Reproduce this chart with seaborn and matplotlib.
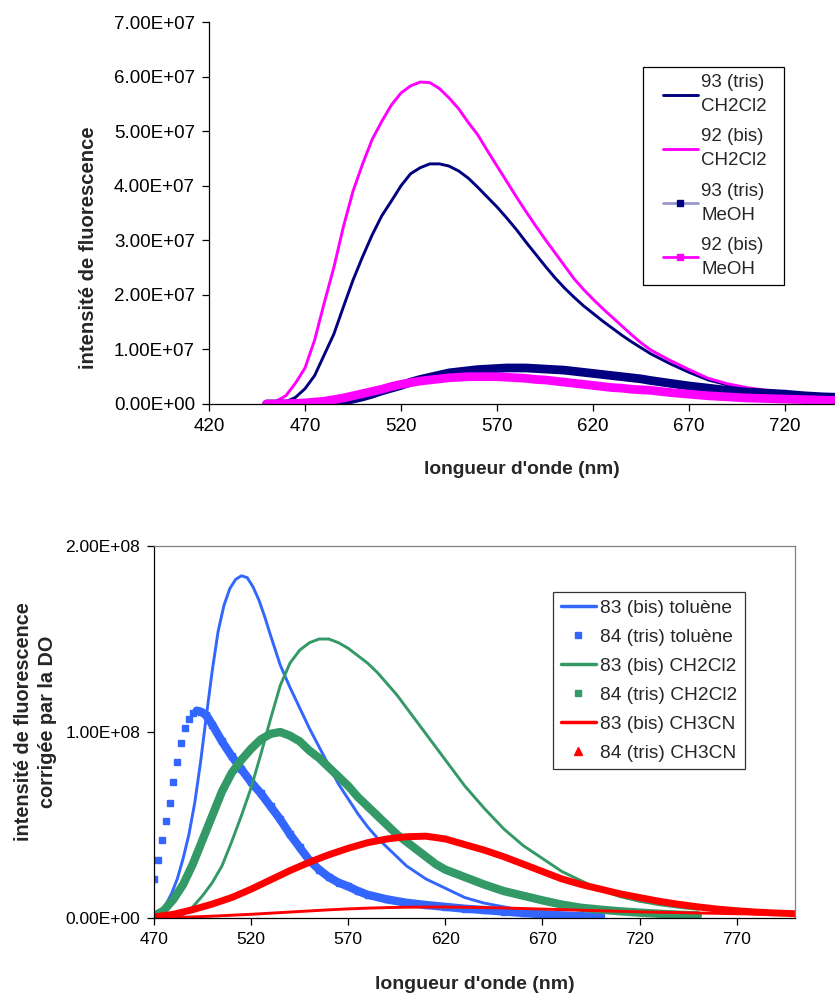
import numpy as np
import pandas as pd
import matplotlib
matplotlib.use("Agg")
import matplotlib.pyplot as plt
from matplotlib.lines import Line2D
from matplotlib.patches import Rectangle
from matplotlib.ticker import FuncFormatter
import seaborn as sns

# ── Data ────────────────────────────────────────────────────────
# top chart: wavelengths (nm) and intensities (units of 1e7)
wl_top = [450, 455, 460, 465, 470, 475, 480, 485, 490, 495, 500, 505, 510, 515,
          520, 525, 530, 535, 540, 545, 550, 555, 560, 565, 570, 575, 580, 585,
          590, 595, 600, 605, 610, 615, 620, 625, 630, 635, 640, 645, 650, 660,
          670, 680, 690, 700, 710, 720, 730, 740, 750]
tris93_ch2cl2 = [0.0, 0.01, 0.04, 0.12, 0.28, 0.52, 0.9, 1.28, 1.78, 2.27, 2.7, 3.1,
                 3.45, 3.72, 4.0, 4.22, 4.33, 4.4, 4.4, 4.36, 4.27, 4.14, 3.97, 3.79,
                 3.61, 3.41, 3.2, 2.97, 2.75, 2.53, 2.32, 2.13, 1.96, 1.8, 1.66, 1.52,
                 1.39, 1.26, 1.14, 1.03, 0.92, 0.74, 0.58, 0.44, 0.35, 0.28, 0.23, 0.19,
                 0.15, 0.12, 0.1]
bis92_ch2cl2 = [0.0, 0.05, 0.15, 0.38, 0.66, 1.17, 1.85, 2.5, 3.25, 3.9, 4.4, 4.85,
                5.18, 5.48, 5.7, 5.83, 5.9, 5.89, 5.78, 5.61, 5.41, 5.16, 4.93, 4.64,
                4.36, 4.08, 3.8, 3.53, 3.27, 3.02, 2.78, 2.54, 2.3, 2.1, 1.92, 1.75,
                1.59, 1.43, 1.27, 1.12, 0.99, 0.8, 0.63, 0.47, 0.37, 0.3, 0.25, 0.2,
                0.16, 0.12, 0.1]
tris93_meoh = [0.0, 0.0, 0.0, 0.0, 0.0, 0.0, 0.0, 0.02, 0.05, 0.09, 0.13, 0.18, 0.24,
               0.29, 0.34, 0.4, 0.45, 0.49, 0.53, 0.57, 0.59, 0.61, 0.63, 0.64, 0.65,
               0.66, 0.66, 0.66, 0.65, 0.64, 0.63, 0.62, 0.6, 0.58, 0.56, 0.54, 0.52,
               0.5, 0.48, 0.46, 0.43, 0.38, 0.33, 0.29, 0.25, 0.22, 0.2, 0.18, 0.15,
               0.13, 0.12]
bis92_meoh = [0.0, 0.0, 0.005, 0.01, 0.02, 0.035, 0.05, 0.08, 0.11, 0.15, 0.19, 0.23,
              0.27, 0.32, 0.36, 0.39, 0.42, 0.44, 0.46, 0.48, 0.49, 0.5, 0.5, 0.5,
              0.5, 0.49, 0.48, 0.47, 0.45, 0.44, 0.42, 0.4, 0.38, 0.36, 0.34, 0.32,
              0.3, 0.29, 0.27, 0.26, 0.25, 0.21, 0.18, 0.15, 0.13, 0.11, 0.1, 0.09,
              0.08, 0.07, 0.06]

# bottom chart: intensities in units of 1e8
wl_tol83 = [470, 473, 476, 479, 482, 485, 488, 491, 494, 497, 500, 503, 506, 509,
            512, 515, 518, 521, 524, 527, 530, 535, 540, 545, 550, 555, 560, 565,
            570, 575, 580, 585, 590, 595, 600, 610, 620, 630, 640, 650, 660, 670,
            680, 690, 700]
bis83_toluene = [0.0, 0.02, 0.07, 0.13, 0.21, 0.32, 0.45, 0.62, 0.84, 1.09, 1.33,
                 1.54, 1.68, 1.77, 1.82, 1.84, 1.83, 1.78, 1.71, 1.62, 1.52, 1.36,
                 1.24, 1.13, 1.02, 0.92, 0.82, 0.72, 0.64, 0.56, 0.49, 0.43, 0.38,
                 0.33, 0.28, 0.21, 0.16, 0.11, 0.08, 0.06, 0.04, 0.03, 0.02, 0.012,
                 0.008]
wl_tol84 = [470, 472, 474, 476, 478, 480, 482, 484, 486, 488, 490, 492, 494, 497,
            500, 505, 510, 515, 520, 525, 530, 535, 540, 545, 550, 555, 560, 565,
            570, 575, 580, 590, 600, 610, 620, 630, 640, 650, 660, 670, 680, 690, 700]
tris84_toluene = [0.21, 0.31, 0.42, 0.52, 0.62, 0.73, 0.84, 0.94, 1.02, 1.07, 1.1,
                  1.115, 1.11, 1.09, 1.04, 0.95, 0.87, 0.8, 0.73, 0.67, 0.6, 0.53,
                  0.45, 0.38, 0.31, 0.26, 0.22, 0.19, 0.17, 0.145, 0.125, 0.1, 0.082,
                  0.07, 0.06, 0.05, 0.043, 0.035, 0.027, 0.02, 0.014, 0.01, 0.007]
wl_dcm = [470, 480, 485, 490, 495, 500, 505, 510, 515, 520, 525, 530, 535, 540, 545,
          550, 555, 560, 565, 570, 575, 580, 585, 590, 595, 600, 605, 610, 615, 620,
          625, 630, 635, 640, 650, 660, 670, 680, 690, 700, 710, 720, 730, 740, 750]
bis83_ch2cl2 = [0.0, 0.005, 0.02, 0.06, 0.12, 0.19, 0.28, 0.41, 0.55, 0.7, 0.88,
                1.07, 1.25, 1.37, 1.44, 1.48, 1.5, 1.5, 1.48, 1.45, 1.41, 1.37, 1.32,
                1.26, 1.2, 1.13, 1.06, 0.99, 0.92, 0.85, 0.78, 0.71, 0.65, 0.59, 0.48,
                0.39, 0.32, 0.25, 0.2, 0.15, 0.115, 0.09, 0.072, 0.058, 0.047]
wl_dcm84 = [470, 475, 480, 485, 490, 495, 500, 505, 510, 515, 520, 525, 530, 535,
            540, 545, 550, 555, 560, 565, 570, 575, 580, 585, 590, 595, 600, 605,
            610, 615, 620, 625, 630, 635, 640, 650, 660, 670, 680, 690, 700, 710,
            720, 730, 740, 750]
tris84_ch2cl2 = [0.01, 0.04, 0.1, 0.18, 0.29, 0.42, 0.55, 0.68, 0.78, 0.85, 0.91,
                 0.96, 0.99, 1.0, 0.98, 0.95, 0.9, 0.86, 0.81, 0.76, 0.71, 0.65, 0.6,
                 0.55, 0.5, 0.45, 0.41, 0.37, 0.33, 0.29, 0.26, 0.24, 0.22, 0.2, 0.18,
                 0.145, 0.12, 0.095, 0.072, 0.055, 0.045, 0.036, 0.029, 0.023, 0.018,
                 0.014]
wl_acn = [470, 480, 490, 500, 510, 520, 530, 540, 550, 560, 570, 580, 590, 600, 610,
          620, 630, 640, 650, 660, 670, 680, 690, 700, 710, 720, 730, 740, 750, 760,
          770, 780, 790, 800]
bis83_ch3cn = [0.0, 0.003, 0.006, 0.01, 0.015, 0.02, 0.026, 0.032, 0.038, 0.044,
               0.049, 0.053, 0.056, 0.058, 0.059, 0.059, 0.058, 0.056, 0.054, 0.051,
               0.048, 0.045, 0.042, 0.039, 0.036, 0.033, 0.031, 0.029, 0.027, 0.025,
               0.023, 0.021, 0.02, 0.019]
tris84_ch3cn = [0.005, 0.02, 0.045, 0.075, 0.11, 0.155, 0.205, 0.255, 0.3, 0.34,
                0.375, 0.405, 0.425, 0.437, 0.44, 0.425, 0.395, 0.365, 0.33, 0.29,
                0.25, 0.21, 0.18, 0.155, 0.13, 0.11, 0.09, 0.074, 0.06, 0.048, 0.039,
                0.032, 0.027, 0.023]

top_labels = ["93 (tris)\nCH2Cl2", "92 (bis)\nCH2Cl2", "93 (tris)\nMeOH", "92 (bis)\nMeOH"]
bottom_labels = ["83 (bis) toluène", "84 (tris) toluène", "83 (bis) CH2Cl2",
                 "84 (tris) CH2Cl2", "83 (bis) CH3CN", "84 (tris) CH3CN"]

# ── Style ───────────────────────────────────────────────────────
sns.set_theme(style="white")
plt.rcParams["font.family"] = ["Liberation Sans", "DejaVu Sans"]

NAVY, PINK, LAVENDER = "#000080", "#FF00FF", "#9999CC"
BLUE, GREEN, RED = "#3366FF", "#339966", "#FF0000"

fmt = FuncFormatter(lambda v, p: f"{v:.2E}")

W, H = 835, 996
fig = plt.figure(figsize=(W / 100, H / 100), dpi=100)
ax1 = fig.add_axes([0.2503, 0.5944, 0.7497, 0.3835])
ax2 = fig.add_axes([0.1844, 0.0783, 0.7677, 0.3735])

# ── Top chart ───────────────────────────────────────────────────
wl = np.array(wl_top)
sns.lineplot(x=wl, y=np.array(tris93_ch2cl2) * 1e7, ax=ax1, color=NAVY, lw=2.1,
             sort=False, estimator=None)
sns.lineplot(x=wl, y=np.array(bis92_ch2cl2) * 1e7, ax=ax1, color=PINK, lw=2.1,
             sort=False, estimator=None)
sns.lineplot(x=wl, y=np.array(tris93_meoh) * 1e7, ax=ax1, color=NAVY, lw=6.3,
             sort=False, estimator=None)
sns.lineplot(x=wl, y=np.array(bis92_meoh) * 1e7, ax=ax1, color=PINK, lw=6.3,
             sort=False, estimator=None)

ax1.set_xlim(420, 746)
ax1.set_ylim(0, 7e7)
ax1.set_xticks(np.arange(420, 721, 50))
ax1.set_yticks(np.arange(0, 7.01e7, 1e7))
ax1.yaxis.set_major_formatter(fmt)
ax1.tick_params(direction="out", length=5, width=0.9, labelsize=13.5, colors="black",
                bottom=True, left=True, pad=5)
sns.despine(ax=ax1)
for s in ["left", "bottom"]:
    ax1.spines[s].set_color("black")
    ax1.spines[s].set_linewidth(0.9)
ax1.set_xlabel("longueur d'onde (nm)", fontsize=13.8, fontweight="bold")
ax1.set_ylabel("intensité de fluorescence", fontsize=14.6, fontweight="bold")
ax1.xaxis.set_label_coords(0.5, -0.148)
ax1.yaxis.set_label_coords(-0.177, 0.41)

top_handles = [
    Line2D([], [], color=NAVY, lw=2.1),
    Line2D([], [], color=PINK, lw=2.1),
    Line2D([], [], color=LAVENDER, lw=2, marker="s", ms=5, mfc=NAVY, mec=NAVY),
    Line2D([], [], color=PINK, lw=2, marker="s", ms=5, mfc=PINK, mec=PINK),
]
# legend box drawn separately so the padding can match the reference
fig.add_artist(Rectangle((643 / W, 1 - 285 / H), 141 / W, 218 / H,
                         transform=fig.transFigure, facecolor="white",
                         edgecolor="black", lw=0.9, zorder=3))
leg1 = fig.legend(top_handles, top_labels, loc="upper left",
                  bbox_to_anchor=(663 / W, 1 - 74 / H), bbox_transform=fig.transFigure,
                  fontsize=13.5, frameon=False, handlelength=1.85,
                  handletextpad=0.2, labelspacing=0.7, borderpad=0, borderaxespad=0)
leg1.set_zorder(4)
for t in leg1.get_texts():
    t.set_linespacing(1.55)

# ── Bottom chart ────────────────────────────────────────────────
sns.lineplot(x=wl_tol83, y=np.array(bis83_toluene) * 1e8, ax=ax2, color=BLUE, lw=2.1,
             sort=False, estimator=None)
tol84 = np.array(tris84_toluene) * 1e8
peak = int(np.argmax(tol84))
ax2.plot(wl_tol84, tol84, ls="none", marker="s", ms=4.6, color=BLUE, mec=BLUE)
sns.lineplot(x=wl_tol84[peak:], y=tol84[peak:], ax=ax2, color=BLUE, lw=6,
             sort=False, estimator=None)
sns.lineplot(x=wl_dcm, y=np.array(bis83_ch2cl2) * 1e8, ax=ax2, color=GREEN, lw=2.1,
             sort=False, estimator=None)
sns.lineplot(x=wl_dcm84, y=np.array(tris84_ch2cl2) * 1e8, ax=ax2, color=GREEN, lw=6,
             sort=False, estimator=None)
sns.lineplot(x=wl_acn, y=np.array(bis83_ch3cn) * 1e8, ax=ax2, color=RED, lw=2.1,
             sort=False, estimator=None)
sns.lineplot(x=wl_acn, y=np.array(tris84_ch3cn) * 1e8, ax=ax2, color=RED, lw=5,
             sort=False, estimator=None)

ax2.set_xlim(470, 800)
ax2.set_ylim(0, 2e8)
ax2.set_xticks(np.arange(470, 771, 50))
ax2.set_yticks([0, 1e8, 2e8])
ax2.yaxis.set_major_formatter(fmt)
ax2.tick_params(direction="out", length=5, width=0.9, labelsize=12.5, colors="black",
                bottom=True, left=True, pad=5)
for s in ["left", "bottom"]:
    ax2.spines[s].set_color("black")
    ax2.spines[s].set_linewidth(0.9)
for s in ["top", "right"]:
    ax2.spines[s].set_color("#808080")
    ax2.spines[s].set_linewidth(0.9)
ax2.set_xlabel("longueur d'onde (nm)", fontsize=14, fontweight="bold")
ax2.set_ylabel("intensité de fluorescence\ncorrigée par la DO", fontsize=14.3,
               fontweight="bold", linespacing=1.35)
ax2.xaxis.set_label_coords(0.5, -0.155)
ax2.yaxis.set_label_coords(-0.151, 0.527)

bottom_handles = [
    Line2D([], [], color=BLUE, lw=2.5),
    Line2D([], [], ls="none", marker="s", ms=4.5, color=BLUE),
    Line2D([], [], color=GREEN, lw=2.5),
    Line2D([], [], ls="none", marker="s", ms=4.5, color=GREEN),
    Line2D([], [], color=RED, lw=2.5),
    Line2D([], [], ls="none", marker="^", ms=5.5, color=RED),
]
leg2 = fig.legend(bottom_handles, bottom_labels, loc="upper left",
                  bbox_to_anchor=(553 / W, 1 - 592 / H), bbox_transform=fig.transFigure,
                  fontsize=13.8, frameon=True, fancybox=False, edgecolor="black",
                  handlelength=1.85, handletextpad=0.2, labelspacing=0.6,
                  borderpad=0.4, borderaxespad=0)
leg2.get_frame().set_linewidth(0.9)

fig.savefig("out.png", dpi=100, facecolor="white")
